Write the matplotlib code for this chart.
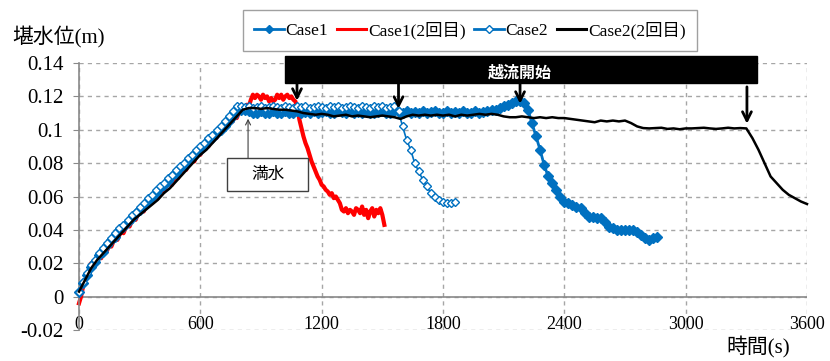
import numpy as np
import matplotlib
matplotlib.use("Agg")
import matplotlib.pyplot as plt
from matplotlib.patches import Rectangle
from matplotlib.lines import Line2D

# ---------------- data ----------------
# Case1 (filled diamonds), sampled every 20 s
case1_dt = 20
case1 = [0.003, 0.008, 0.013, 0.018, 0.021, 0.025, 0.027, 0.031, 0.034, 0.036,
         0.040, 0.042, 0.045, 0.047, 0.050, 0.052, 0.055, 0.057, 0.060, 0.062,
         0.065, 0.067, 0.069, 0.072, 0.074, 0.077, 0.079, 0.081, 0.084, 0.086,
         0.088, 0.091, 0.093, 0.095, 0.098, 0.100, 0.102, 0.105, 0.108, 0.111,
         0.112, 0.112, 0.111, 0.110, 0.110, 0.111, 0.110, 0.110, 0.111, 0.110,
         0.110, 0.111, 0.110, 0.110, 0.111, 0.110, 0.1105, 0.110, 0.111, 0.110,
         0.1105, 0.111, 0.110, 0.110, 0.111, 0.1105, 0.110, 0.111, 0.110, 0.1105,
         0.110, 0.111, 0.110, 0.110, 0.1105, 0.111, 0.110, 0.110, 0.111, 0.1105,
         0.110, 0.111, 0.110, 0.1105, 0.110, 0.111, 0.110, 0.1105, 0.111, 0.110,
         0.110, 0.111, 0.110, 0.1105, 0.110, 0.111, 0.110, 0.110, 0.111, 0.110,
         0.1105, 0.111, 0.112, 0.112, 0.113, 0.114, 0.115, 0.116, 0.117, 0.117,
         0.116, 0.112, 0.104, 0.096, 0.088, 0.079, 0.072, 0.068, 0.064, 0.060,
         0.057, 0.056, 0.055, 0.054, 0.053, 0.050, 0.048, 0.048, 0.047, 0.047,
         0.045, 0.042, 0.041, 0.040, 0.040, 0.040, 0.040, 0.040, 0.039, 0.037,
         0.035, 0.034, 0.035, 0.036]

# Case1 (2nd run, red), sampled every 10 s
red_dt = 10
case1_2 = [-0.004, 0.000, 0.006, 0.010, 0.012, 0.016, 0.020, 0.018, 0.022, 0.021,
           0.024, 0.023, 0.027, 0.026, 0.028, 0.031, 0.030, 0.033, 0.035, 0.034,
           0.037, 0.039, 0.038, 0.041, 0.043, 0.042, 0.045, 0.047, 0.046, 0.049,
           0.050, 0.052, 0.051, 0.054, 0.055, 0.057, 0.056, 0.059, 0.060, 0.059,
           0.062, 0.064, 0.063, 0.066, 0.067, 0.068, 0.067, 0.070, 0.072, 0.071,
           0.074, 0.075, 0.077, 0.076, 0.079, 0.080, 0.082, 0.081, 0.084, 0.086,
           0.085, 0.088, 0.089, 0.091, 0.090, 0.093, 0.094, 0.096, 0.095, 0.098,
           0.099, 0.101, 0.100, 0.103, 0.104, 0.106, 0.105, 0.108, 0.107, 0.110,
           0.111, 0.113, 0.112, 0.115, 0.114, 0.118, 0.121, 0.119, 0.121, 0.120,
           0.118, 0.121, 0.119, 0.120, 0.117, 0.119, 0.117, 0.118, 0.121, 0.119,
           0.121, 0.118, 0.120, 0.121, 0.119, 0.120, 0.118, 0.117, 0.113, 0.106,
           0.101, 0.096, 0.092, 0.089, 0.085, 0.081, 0.078, 0.075, 0.072, 0.070,
           0.067, 0.066, 0.064, 0.063, 0.061, 0.062, 0.059, 0.060, 0.058, 0.056,
           0.052, 0.051, 0.053, 0.050, 0.052, 0.051, 0.049, 0.053, 0.052, 0.050,
           0.054, 0.049, 0.052, 0.047, 0.051, 0.053, 0.048, 0.052, 0.050, 0.053,
           0.049, 0.043]

# Case2 (open diamonds), sampled every 20 s
case2_dt = 20
case2 = [0.003, 0.009, 0.014, 0.019, 0.022, 0.026, 0.029, 0.032, 0.035, 0.038,
         0.041, 0.043, 0.046, 0.049, 0.051, 0.054, 0.056, 0.059, 0.061, 0.064,
         0.066, 0.068, 0.071, 0.073, 0.076, 0.078, 0.080, 0.083, 0.085, 0.088,
         0.090, 0.092, 0.095, 0.097, 0.100, 0.102, 0.105, 0.108, 0.111, 0.114,
         0.114, 0.1135, 0.114, 0.113, 0.1135, 0.114, 0.113, 0.1135, 0.114, 0.1135,
         0.113, 0.114, 0.1135, 0.113, 0.114, 0.1135, 0.114, 0.113, 0.1135, 0.114,
         0.1135, 0.113, 0.114, 0.1135, 0.114, 0.113, 0.1135, 0.114, 0.1135, 0.113,
         0.114, 0.1135, 0.113, 0.114, 0.1135, 0.114, 0.113, 0.1135, 0.114, 0.111,
         0.102, 0.094, 0.088, 0.080, 0.075, 0.070, 0.066, 0.062, 0.060, 0.058,
         0.057, 0.056, 0.056, 0.0565]

# Case2 (2nd run, black), sampled every 30 s
black_dt = 30
case2_2 = [0.003, 0.010, 0.017, 0.022, 0.026, 0.030, 0.034, 0.038, 0.042, 0.046,
           0.049, 0.052, 0.055, 0.058, 0.062, 0.065, 0.069, 0.073, 0.077, 0.081,
           0.085, 0.088, 0.092, 0.096, 0.100, 0.104, 0.108, 0.112, 0.113, 0.113,
           0.1125, 0.113, 0.1125, 0.112, 0.112, 0.1115, 0.111, 0.110, 0.1095, 0.109,
           0.1095, 0.109, 0.108, 0.1085, 0.109, 0.108, 0.1085, 0.108, 0.1075, 0.108,
           0.1085, 0.108, 0.1075, 0.1065, 0.108, 0.109, 0.1085, 0.109, 0.1085, 0.109,
           0.1085, 0.109, 0.108, 0.109, 0.1085, 0.109, 0.1095, 0.109, 0.1095, 0.109,
           0.108, 0.1075, 0.1075, 0.108, 0.1075, 0.107, 0.1075, 0.107, 0.1075, 0.107,
           0.107, 0.1065, 0.106, 0.1055, 0.105, 0.1045, 0.1055, 0.105, 0.1055, 0.105,
           0.1055, 0.104, 0.102, 0.101, 0.1008, 0.101, 0.1012, 0.1005, 0.1008, 0.1003,
           0.1008, 0.1008, 0.101, 0.1012, 0.1008, 0.1005, 0.1008, 0.1012, 0.1008, 0.101,
           0.1008, 0.095, 0.088, 0.080, 0.072, 0.068, 0.064, 0.061, 0.059, 0.057,
           0.0555]

series_labels = ["Case1", "Case1(2回目)", "Case2", "Case2(2回目)"]
x_ticks = [0, 600, 1200, 1800, 2400, 3000, 3600]
y_ticks = [-0.02, 0, 0.02, 0.04, 0.06, 0.08, 0.1, 0.12, 0.14]
y_title = "堪水位(m)"
x_title = "時間(s)"

# annotations (data space)
overflow_label = "越流開始"
overflow_times = [1078, 1580, 2181, 3303]
overflow_tips = [0.1174, 0.1126, 0.1156, 0.1036]
full_label = "満水"
full_time = 836
full_tip = 0.1066

BLUE = "#0070C0"
RED = "#FF0000"
GRID = "#A6A6A6"
SPINE = "#898989"
FAM = ["Liberation Serif", "Noto Sans CJK JP"]
JP = ["Noto Sans CJK JP", "DejaVu Sans"]

# ---------------- figure ----------------
fig = plt.figure(figsize=(8.3, 3.61), dpi=100)
ax = fig.add_axes([79 / 830, 1 - 330 / 361, 728 / 830, 267 / 361])

t1 = np.arange(len(case1)) * case1_dt
t1b = np.arange(len(case1_2)) * red_dt
t2 = np.arange(len(case2)) * case2_dt
t2b = np.arange(len(case2_2)) * black_dt

ax.plot(t1, case1, color=BLUE, lw=2.0, marker="D", ms=4.6, mfc=BLUE, mec=BLUE,
        zorder=3, clip_on=False, label=series_labels[0])
ax.plot(t1b, case1_2, color=RED, lw=3.0, zorder=2, clip_on=False, label=series_labels[1])
ax.plot(t2, case2, color=BLUE, lw=1.2, marker="D", ms=4.4, mfc="white", mec=BLUE,
        mew=1.0, zorder=4, clip_on=False, label=series_labels[2])
ax.plot(t2b, case2_2, color="black", lw=1.8, zorder=5, clip_on=False, label=series_labels[3])

ax.set_xlim(0, 3600)
ax.set_ylim(-0.02, 0.14)
ax.set_xticks(x_ticks)
ax.set_yticks(y_ticks)
ax.set_xticklabels([f"{v:g}" for v in x_ticks])
ax.set_yticklabels([f"{v:g}" for v in y_ticks])

ax.grid(True, color=GRID, linestyle=(0, (3, 3)), lw=1.0)
ax.set_axisbelow(True)
for s in ["top", "right", "bottom"]:
    ax.spines[s].set_visible(False)
ax.spines["left"].set_color(SPINE)
ax.spines["left"].set_linewidth(1.2)
ax.axhline(0, color=SPINE, lw=1.2, zorder=1)

ax.tick_params(axis="y", direction="out", length=4, color=SPINE, pad=7,
               labelsize=15)
ax.tick_params(axis="x", length=0, pad=-10, labelsize=13)
for lab in ax.get_xticklabels() + ax.get_yticklabels():
    lab.set_family(FAM)

# overflow banner
y_lo, y_hi = 0.1281, 0.1443
ax.add_patch(Rectangle((1019, y_lo), 3353 - 1019, y_hi - y_lo, facecolor="black",
                       edgecolor="black", clip_on=False, zorder=8))
ax.text(2181, 0.1345, overflow_label, color="white", fontsize=11.5, fontweight="bold",
        family=JP, ha="center", va="center", zorder=9, clip_on=False)
starts = [y_lo, y_lo, y_lo, 0.1257]
for t, tip, st in zip(overflow_times, overflow_tips, starts):
    ax.annotate("", xy=(t, tip), xytext=(t, st),
                arrowprops=dict(arrowstyle="->", color="black", lw=2.0,
                                mutation_scale=16, shrinkA=0, shrinkB=0),
                annotation_clip=False, zorder=9)

# full-water callout
ax.add_patch(Rectangle((734, 0.0635), 396, 0.0197, facecolor="white",
                       edgecolor="#404040", lw=1.0, zorder=8))
ax.text(932, 0.0734, full_label, fontsize=12, family=JP, ha="center", va="center",
        zorder=9)
ax.annotate("", xy=(full_time, full_tip), xytext=(full_time, 0.0832),
            arrowprops=dict(arrowstyle="->", color="#404040", lw=0.8,
                            mutation_scale=9, shrinkA=0, shrinkB=0), zorder=9)

# axis titles
fig.text(12 / 830, 1 - 37 / 361, y_title, family=FAM, fontsize=15, ha="left", va="center")
fig.text(758 / 830, 1 - 347 / 361, x_title, family=FAM, fontsize=15, ha="center", va="center")

# legend
handles = [
    Line2D([], [], color=BLUE, lw=2.0, marker="D", ms=4.5, mfc=BLUE, mec=BLUE),
    Line2D([], [], color=RED, lw=2.2),
    Line2D([], [], color=BLUE, lw=2.0, marker="D", ms=4.5, mfc="white", mec=BLUE),
    Line2D([], [], color="black", lw=2.2),
]
leg = fig.legend(handles, series_labels, loc="center",
                 bbox_to_anchor=(470 / 830, 1 - 30.5 / 361),
                 ncol=4, frameon=True, fancybox=False,
                 edgecolor=SPINE, borderaxespad=0, handlelength=1.7,
                 handletextpad=0.1, columnspacing=0.5, borderpad=0.65,
                 prop={"family": FAM, "size": 12.5})
leg.get_frame().set_linewidth(1.0)

fig.savefig("out.png", dpi=100)
